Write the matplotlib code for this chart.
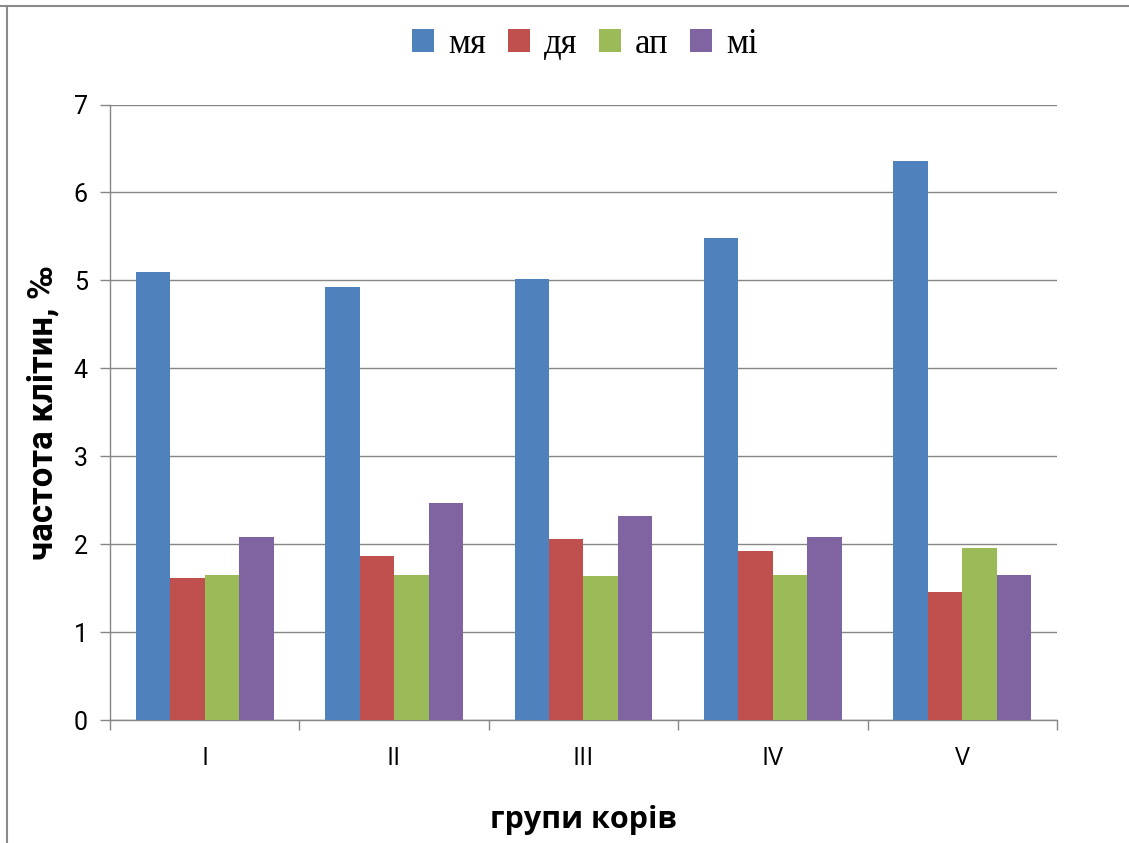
import numpy as np
import matplotlib
matplotlib.use("Agg")
import matplotlib.pyplot as plt
from matplotlib.lines import Line2D

# групи корів та частота клітин, ‰
groups = ["I", "II", "III", "IV", "V"]
series_names = ["мя", "дя", "ап", "мі"]
mya = [5.10, 4.92, 5.02, 5.48, 6.36]
dya = [1.62, 1.86, 2.06, 1.92, 1.46]
ap = [1.65, 1.65, 1.64, 1.65, 1.96]
mi = [2.08, 2.47, 2.32, 2.08, 1.65]
colors = ["#4F81BD", "#C0504D", "#9BBB59", "#8064A2"]

grid_col = "#868686"

fig = plt.figure(figsize=(11.29, 8.43), dpi=100)
ax = fig.add_axes([0.0974, 0.1459, 0.9362 - 0.0974, 0.876 - 0.1459])

x = np.arange(len(groups))
w = 0.182
for i, (vals, name, c) in enumerate(zip([mya, dya, ap, mi], series_names, colors)):
    ax.bar(x + (i - 1.5) * w, vals, width=w, color=c, label=name, zorder=3)

ax.set_xlim(-0.5, len(groups) - 0.5)
ax.set_ylim(0, 7)
ax.set_yticks(range(0, 8))
ax.yaxis.grid(True, color=grid_col, linewidth=1.0, zorder=0)

# ticks on category boundaries, labels centred
ax.set_xticks(np.arange(-0.5, len(groups)), minor=True)
ax.set_xticks(x)
ax.set_xticklabels(groups, fontsize=18, family=["Open Sans", "DejaVu Sans"])
ax.tick_params(axis="x", which="major", length=0, pad=19)
ax.tick_params(axis="x", which="minor", length=7, color=grid_col, width=1)
ax.tick_params(axis="y", length=7, color=grid_col, width=1, pad=9)
for lab in ax.get_yticklabels():
    lab.set_fontsize(18)
    lab.set_family(["Liberation Sans Narrow", "Roboto", "DejaVu Sans"])

for s in ["top", "right"]:
    ax.spines[s].set_visible(False)
for s in ["left", "bottom"]:
    ax.spines[s].set_color(grid_col)
    ax.spines[s].set_linewidth(1.0)

ax.set_xlabel("групи корів", fontsize=22, fontweight="bold",
              family=["Open Sans", "DejaVu Sans"], labelpad=24)
ax.set_ylabel("частота клітин, ‰", fontsize=25, fontweight="bold",
              family=["Liberation Sans Narrow", "Roboto", "DejaVu Sans"], labelpad=10)

leg = fig.legend(loc="center", bbox_to_anchor=(0.518, 0.947), ncol=4, frameon=False,
                 prop={"family": ["Liberation Serif", "DejaVu Serif"], "size": 25},
                 handlelength=0.64, handleheight=0.64, handletextpad=0.4,
                 columnspacing=0.62)

# outer frame fragments
fig.add_artist(Line2D([0, 1], [0.9923, 0.9923], transform=fig.transFigure,
                      color="#8a8a8a", linewidth=1.5))
fig.add_artist(Line2D([0.0062, 0.0062], [0, 0.9923], transform=fig.transFigure,
                      color="#8a8a8a", linewidth=1.5))

fig.savefig("out.png", dpi=100)
